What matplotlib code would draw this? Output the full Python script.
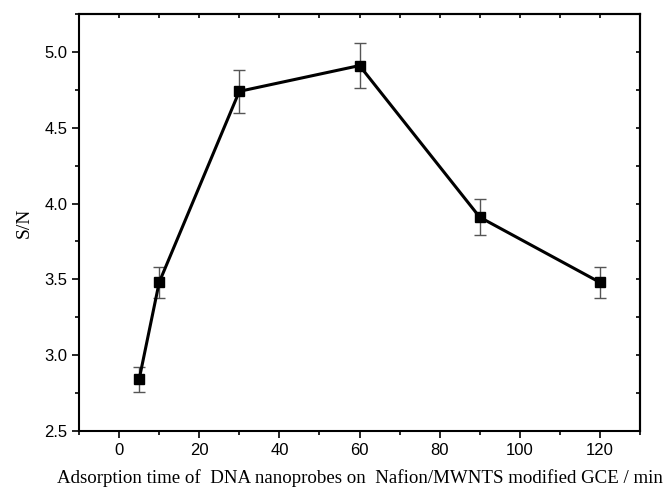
import matplotlib
matplotlib.use("Agg")
import matplotlib.pyplot as plt
from matplotlib.ticker import MultipleLocator

time_min = [5, 10, 30, 60, 90, 120]
sn_ratio = [2.84, 3.48, 4.74, 4.91, 3.91, 3.48]
sn_err = [0.085, 0.10, 0.14, 0.15, 0.12, 0.10]

fig = plt.figure(figsize=(6.72, 4.92), dpi=100)
ax = fig.add_axes([0.1176, 0.124, 0.8348, 0.8475])

ax.errorbar(time_min, sn_ratio, yerr=sn_err, fmt='none', ecolor='#555555',
            elinewidth=1, capsize=4, capthick=1, zorder=2)
ax.plot(time_min, sn_ratio, color='black', lw=2.2, marker='s', ms=7, zorder=3)

ax.set_xlim(-10, 130)
ax.set_ylim(2.5, 5.25)
ax.xaxis.set_major_locator(MultipleLocator(20))
ax.xaxis.set_minor_locator(MultipleLocator(10))
ax.yaxis.set_major_locator(MultipleLocator(0.5))
ax.yaxis.set_minor_locator(MultipleLocator(0.25))

ax.tick_params(which='both', direction='out', top=False, right=False, width=1.2)
ax.tick_params(which='major', length=5)
ax.tick_params(which='minor', length=3)
for lab in ax.get_xticklabels() + ax.get_yticklabels():
    lab.set_family('Liberation Sans')
    lab.set_fontsize(12)

# inward ticks on top and right
ax2 = ax.secondary_xaxis('top')
ax2.xaxis.set_major_locator(MultipleLocator(20))
ax2.xaxis.set_minor_locator(MultipleLocator(10))
ax2.tick_params(which='both', direction='in', labeltop=False, length=3, width=1.2)
ax3 = ax.secondary_yaxis('right')
ax3.yaxis.set_major_locator(MultipleLocator(0.5))
ax3.yaxis.set_minor_locator(MultipleLocator(0.25))
ax3.tick_params(which='both', direction='in', labelright=False, length=3, width=1.2)

for s in ax.spines.values():
    s.set_linewidth(1.5)
ax2.spines['top'].set_linewidth(1.5)
ax3.spines['right'].set_linewidth(1.5)

ax.set_xlabel('Adsorption time of  DNA nanoprobes on  Nafion/MWNTS modified GCE / min',
              family='Liberation Serif', fontsize=13.6, labelpad=8)
ax.set_ylabel('S/N', family='Liberation Serif', fontsize=14, labelpad=8)

fig.savefig('out.png', dpi=100)
